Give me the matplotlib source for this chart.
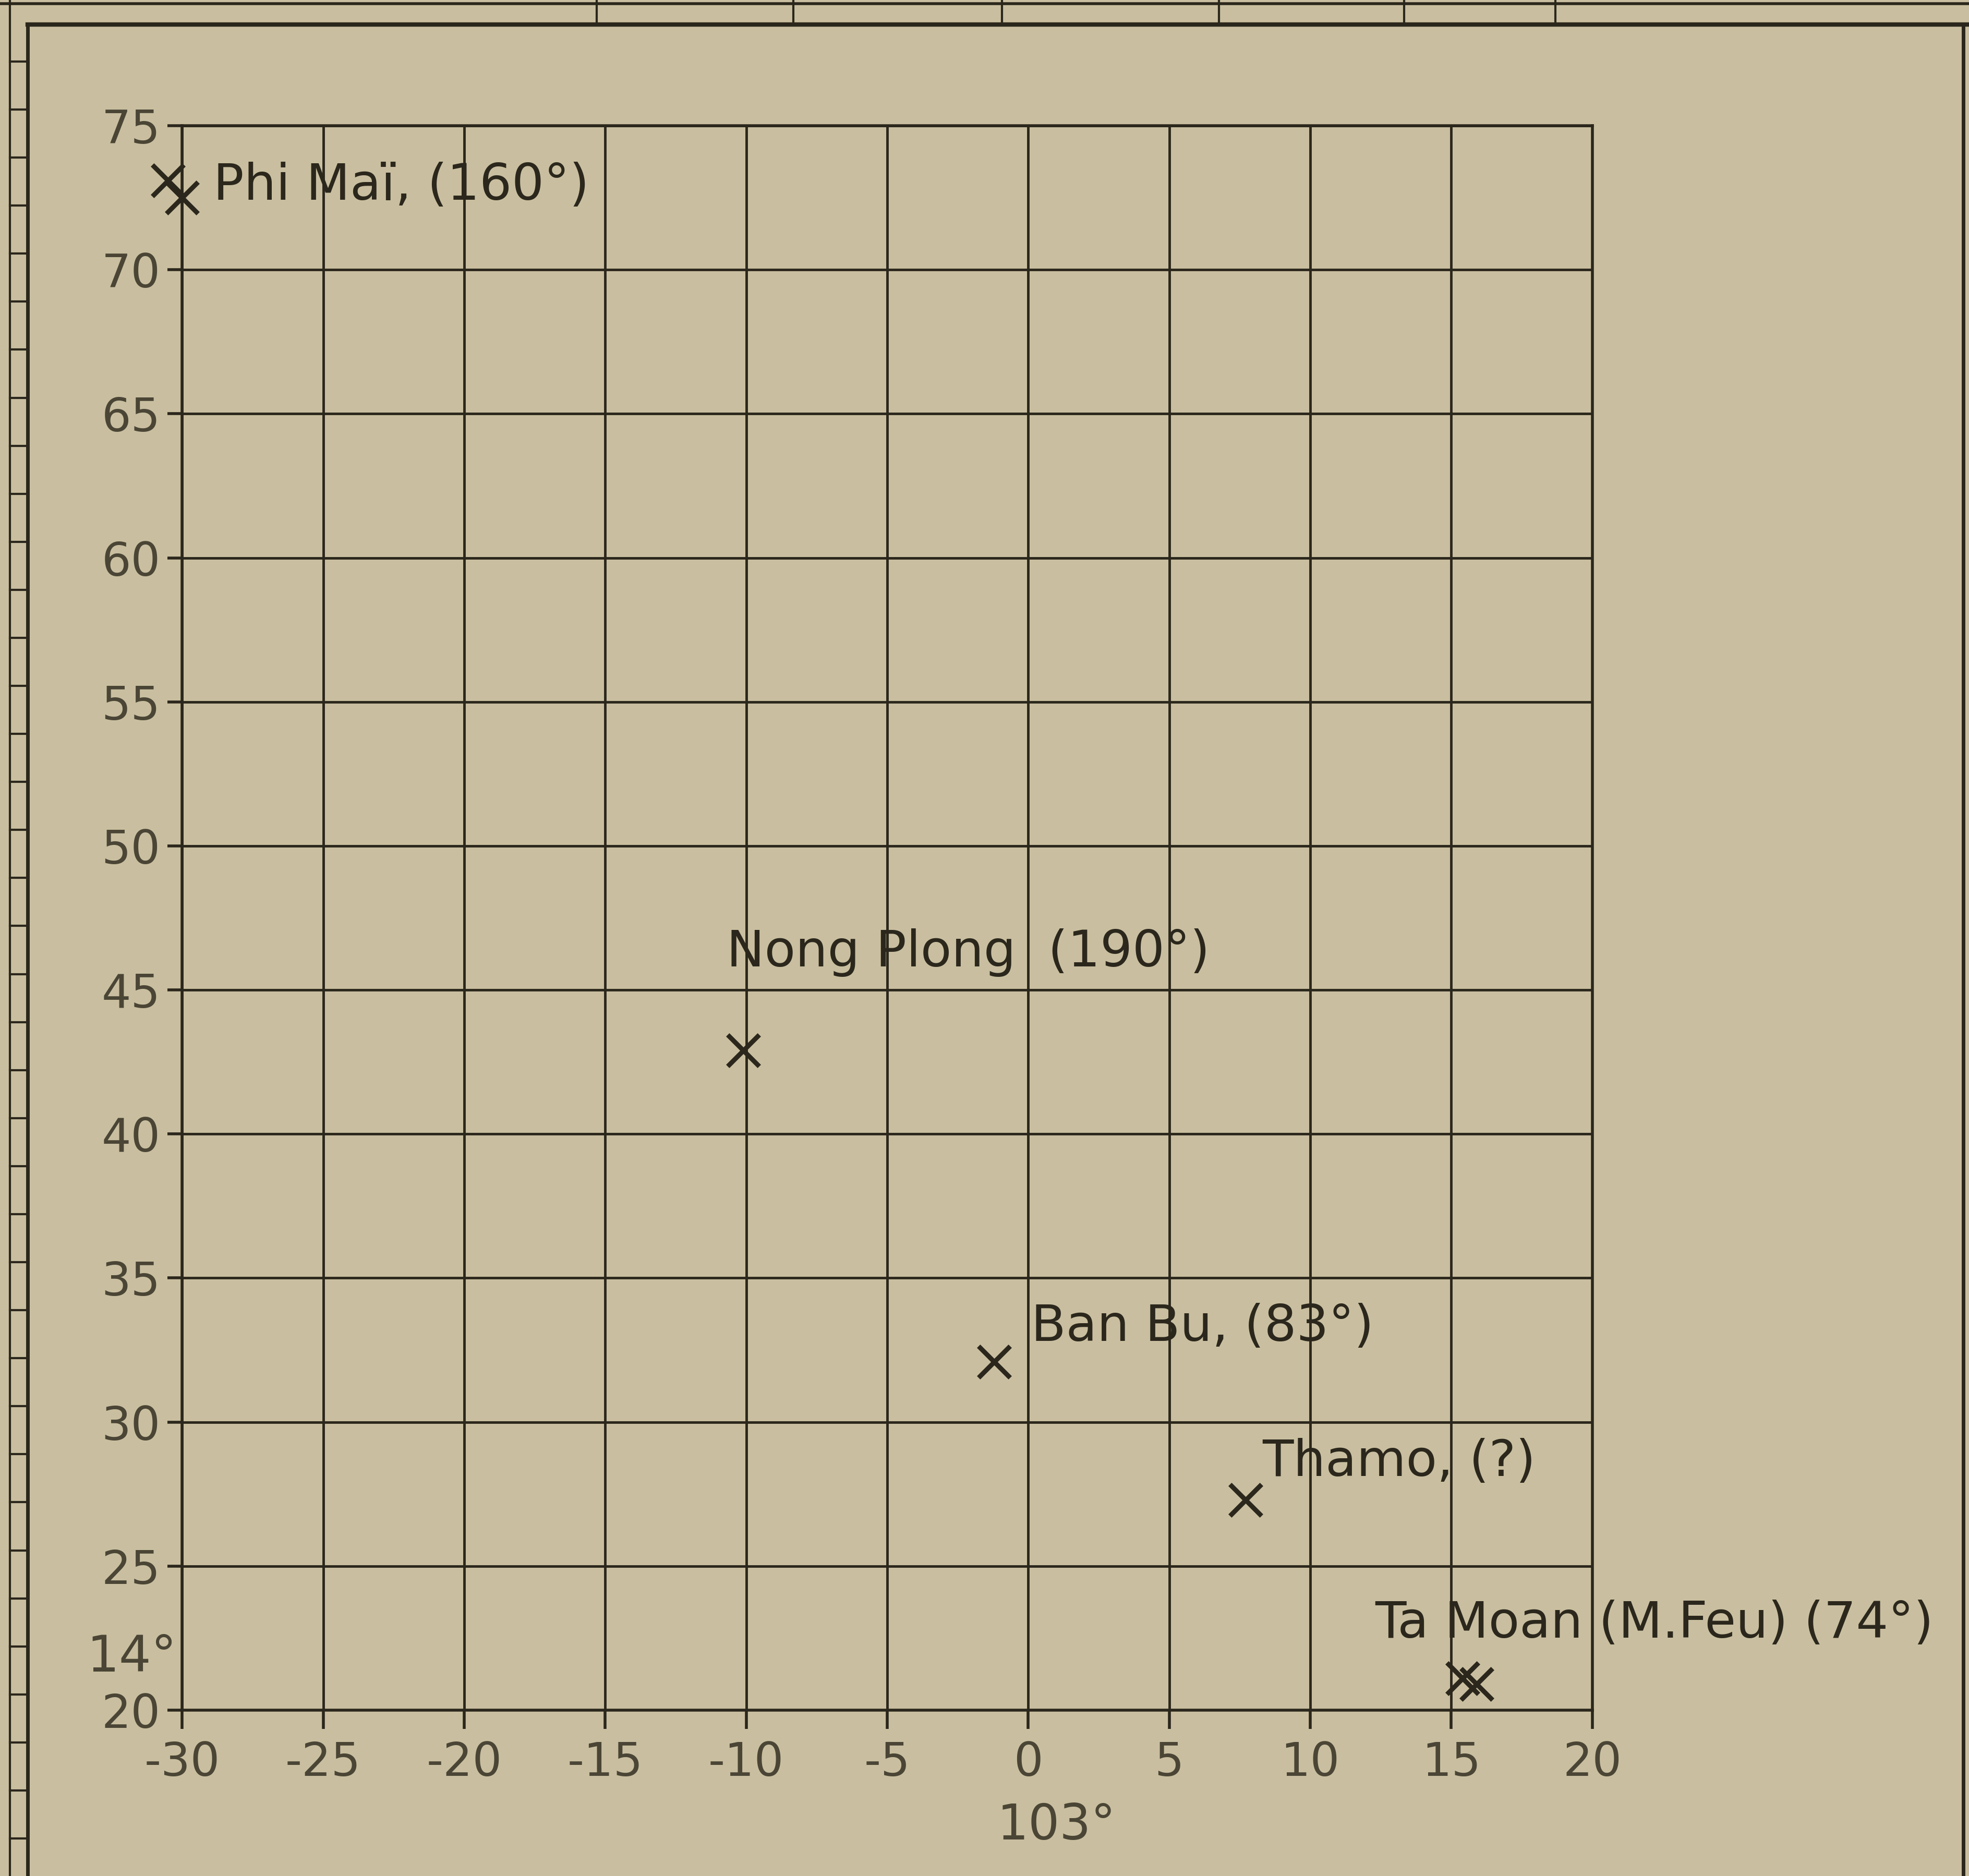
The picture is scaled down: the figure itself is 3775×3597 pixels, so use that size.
import numpy as np
import matplotlib.pyplot as plt
from matplotlib.lines import Line2D

# points (longitude offset, latitude offset)
site_x = [-30.5, -30.0, -10.1, -1.2, 7.7, 15.4, 15.9]
site_y = [73.1, 72.5, 42.9, 32.1, 27.3, 21.1, 20.9]

labels = ["Phi Maï, (160°)", "Nong Plong  (190°)", "Ban Bu, (83°)",
          "Thamo, (?)", "Ta Moan (M.Feu) (74°)"]
label_x = [-28.9, -10.7, 0.1, 8.3, 12.3]
label_y = [72.9, 46.3, 33.3, 28.6, 23.0]

xticks = list(range(-30, 21, 5))
yticks = list(range(20, 76, 5))

bg = "#c9bfa0"
ink = "#2b271c"
grey_ink = "#4a4535"

plt.rcParams['font.family'] = ['DejaVu Sans']

fig = plt.figure(figsize=(37.75, 35.97), dpi=100)
fig.patch.set_facecolor(bg)

# page frame / ruler decoration
fig.add_artist(Line2D([0.014, 0.014], [0, 0.987], transform=fig.transFigure, color=ink, lw=5))
fig.add_artist(Line2D([0.014, 1.0], [0.987, 0.987], transform=fig.transFigure, color=ink, lw=6))
fig.add_artist(Line2D([0.997, 0.997], [0, 0.987], transform=fig.transFigure, color=ink, lw=5))
fig.add_artist(Line2D([0.005, 0.005], [0, 1.0], transform=fig.transFigure, color=ink, lw=3))
fig.add_artist(Line2D([0, 1.0], [0.998, 0.998], transform=fig.transFigure, color=ink, lw=4))
for xv in [0.303, 0.403, 0.509, 0.619, 0.713, 0.79]:
    fig.add_artist(Line2D([xv, xv], [0.987, 1.0], transform=fig.transFigure, color=ink, lw=3))
for yv in np.arange(0.02, 0.99, 0.0256):
    fig.add_artist(Line2D([0.005, 0.014], [yv, yv], transform=fig.transFigure, color=ink, lw=3))

ax = fig.add_axes([0.0925, 0.0884, 0.7162, 0.8446])
ax.set_facecolor(bg)

ax.scatter(site_x, site_y, marker='x', s=1900, color=ink, linewidths=6.5, zorder=3, clip_on=False)

for t, lx, ly in zip(labels, label_x, label_y):
    ax.text(lx, ly, t, fontsize=70, color=ink, va='center', ha='left', clip_on=False, zorder=4)

ax.set_xlim(-30, 20)
ax.set_ylim(20, 75)
ax.set_xticks(xticks)
ax.set_yticks(yticks)
ax.set_xticklabels([str(v) for v in xticks])
ax.grid(True, color=ink, lw=3.5)
ax.set_axisbelow(True)
for s in ax.spines.values():
    s.set_color(ink)
    s.set_linewidth(4)

ax.tick_params(axis='x', direction='out', length=26, width=4, color=ink,
               labelsize=64, labelcolor=grey_ink, pad=16)
ax.tick_params(axis='y', direction='out', length=20, width=4, color=ink,
               labelsize=64, labelcolor=grey_ink, pad=10)

ax.set_xlabel("103°", fontsize=68, color=grey_ink)
ax.xaxis.set_label_coords(0.62, -0.058)
ax.text(-0.004, 0.033, "14°", transform=ax.transAxes, fontsize=70, color=grey_ink,
        ha='right', va='center')

fig.savefig("out.png", dpi=100, facecolor=bg)
